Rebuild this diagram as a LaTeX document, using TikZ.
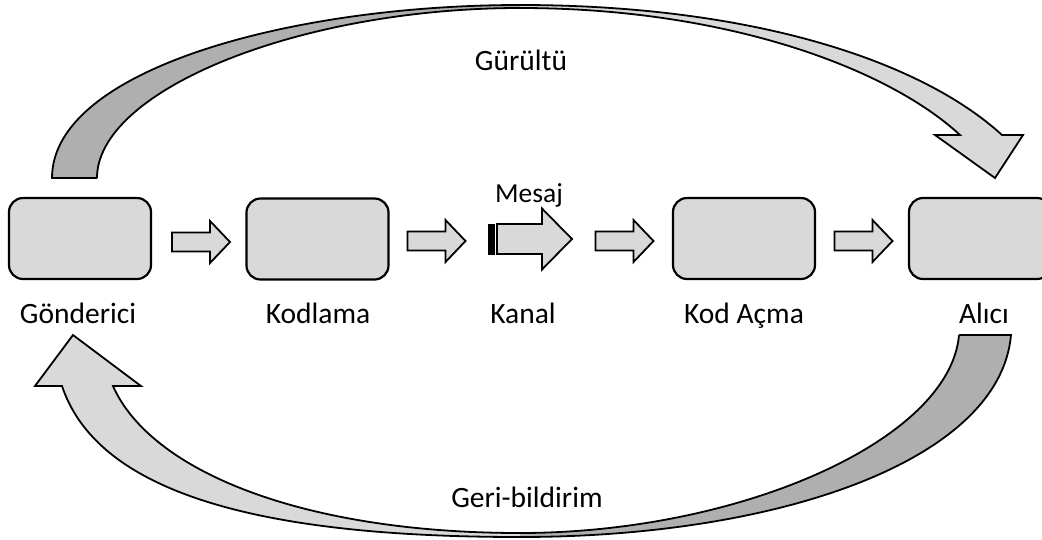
\documentclass[tikz,border=0pt]{standalone}
\usepackage{fontspec}
\setmainfont{Carlito}
\definecolor{lightg}{HTML}{D9D9D9}
\definecolor{darkg}{HTML}{AFAFAF}
\tikzset{
  boxnode/.style={draw=black, line width=2.2pt, fill=lightg, rounded corners=14pt,
    minimum width=142pt, minimum height=81pt, inner sep=0pt},
  lbl/.style={font=\fontsize{29.5}{35}\selectfont, anchor=base, inner sep=0pt},
  arrowstyle/.style={draw=black, line width=1.8pt, fill=lightg, line join=miter},
  curvestyle/.style={draw=black, line width=1.8pt, line join=miter},
  blockarrow/.pic={\path[arrowstyle] (-29,-9.5) -- (9,-9.5) -- (9,-21) -- (29,0) -- (9,21) -- (9,9.5) -- (-29,9.5) -- cycle;}
}
\begin{document}
\begin{tikzpicture}[x=1pt,y=-1pt]
\useasboundingbox (0,0) rectangle (1042,539);
% boxes
\node[boxnode] (snd) at (80,238.5) {};
\node[boxnode] (enc) at (317.5,239) {};
\node[boxnode] (dec) at (744,238.5) {};
\node[boxnode] (rcv) at (980,238.5) {};
% labels
\node[lbl] (sndl) at (78,323) {Gönderici};
\node[lbl] (encl) at (318,323) {Kodlama};
\node[lbl] (chnl) at (523,323) {Kanal};
\node[lbl] (decl) at (744,323) {Kod Açma};
\node[lbl] (rcvl) at (984,323) {Alıcı};
\node[lbl, font=\fontsize{27.5}{33}\selectfont] (msgl) at (529,202) {Mesaj};
\node[lbl] (noisel) at (521,70) {Gürültü};
\node[lbl] (fbl) at (527,507) {Geri-bildirim};
% small block arrows
\pic at (201,242) {blockarrow};
\pic at (436.5,241) {blockarrow};
\pic at (624.5,241) {blockarrow};
\pic at (863.5,241) {blockarrow};
% striped message arrow
\path[arrowstyle] (497,224) -- (542,224) -- (542,208.5) -- (572,239) -- (542,269.5) -- (542,254) -- (497,254) -- cycle;
\filldraw[black, line width=0.8pt] (488.5,224) rectangle (494,254);
% top curved arrow (Gurultu)
\fill[darkg] (52,178) .. controls (52,70) and (290,5) .. (520,5) -- (520,8) .. controls (300,8) and (97,90) .. (97,178) -- cycle;
\fill[lightg] (520,5) .. controls (750,5) and (920,60) .. (1002,135) -- (1023,135) -- (995,178) -- (935,135) -- (960,135) .. controls (890,70) and (730,8) .. (520,8) -- cycle;
\draw[curvestyle] (97,178) -- (52,178) .. controls (52,70) and (290,5) .. (520,5) .. controls (750,5) and (920,60) .. (1002,135) -- (1023,135) -- (995,178) -- (935,135) -- (960,135) .. controls (890,70) and (730,8) .. (520,8) .. controls (300,8) and (97,90) .. (97,178);
% bottom curved arrow (Geri-bildirim)
\fill[darkg] (959,335) .. controls (950,440) and (740,533) .. (520,533) -- (520,537) .. controls (780,537) and (1000,460) .. (1011,335) -- cycle;
\fill[lightg] (520,537) .. controls (280,537) and (100,500) .. (62,386) -- (35,386) -- (73,335) -- (141,386) -- (113,386) .. controls (150,470) and (300,533) .. (520,533) -- cycle;
\draw[curvestyle] (959,335) -- (1011,335) .. controls (1000,460) and (780,537) .. (520,537) .. controls (280,537) and (100,500) .. (62,386) -- (35,386) -- (73,335) -- (141,386) -- (113,386) .. controls (150,470) and (300,533) .. (520,533) .. controls (740,533) and (950,440) .. (959,335);
\end{tikzpicture}
\end{document}
